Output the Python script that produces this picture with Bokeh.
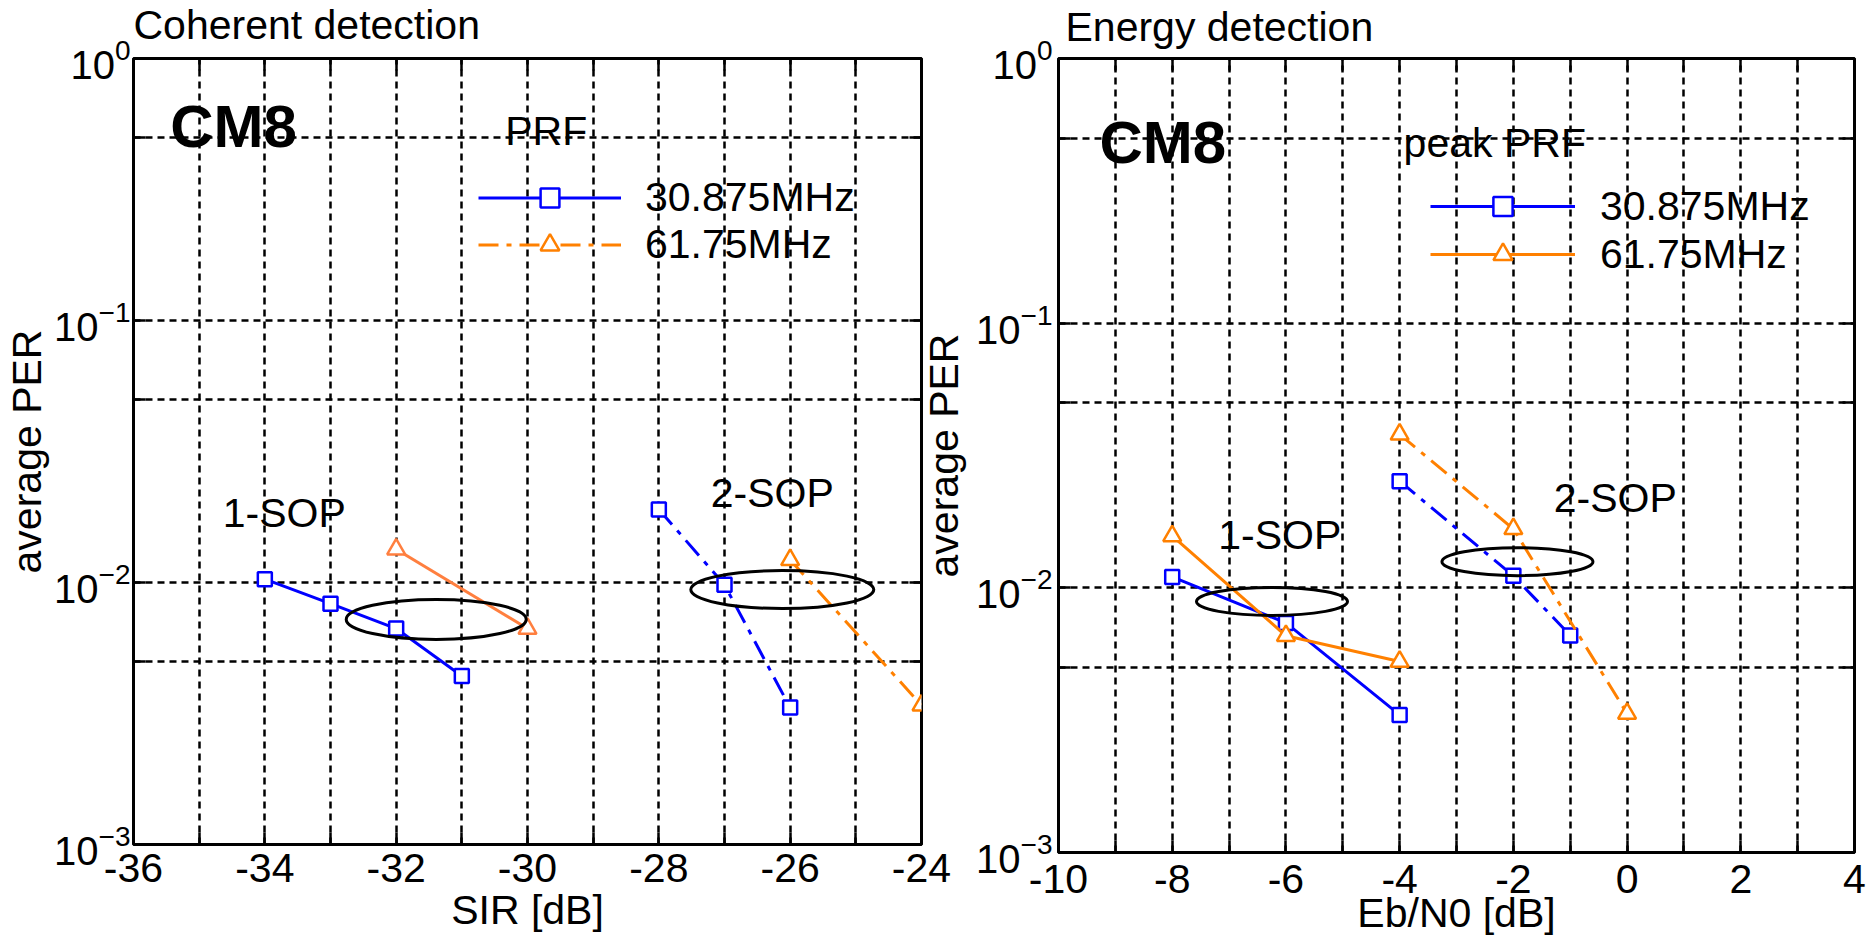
from bokeh.plotting import figure
from bokeh.models import FixedTicker, LinearAxis, LogAxis, Label, Legend, LegendItem
from bokeh.layouts import row
from bokeh.embed import file_html
from bokeh.resources import INLINE

FONT = "Liberation Sans"
BLUE = "#0000FF"
ORANGE = "#FF8000"
ORANGE_L = "#FF7F3F"

# ---------------- data: coherent detection (x = SIR [dB]) ----------------
coh_1sop_x_30 = [-34, -33, -32, -31]
coh_1sop_y_30 = [0.0103, 0.0083, 0.00667, 0.0044]
coh_1sop_x_61 = [-32, -30]
coh_1sop_y_61 = [0.0134, 0.00667]
coh_2sop_x_30 = [-28, -27, -26]
coh_2sop_y_30 = [0.0190, 0.0098, 0.00333]
coh_2sop_x_61 = [-26, -24]
coh_2sop_y_61 = [0.0122, 0.0034]

# ---------------- data: energy detection (x = Eb/N0 [dB]) ----------------
en_1sop_x = [-8, -6, -4]
en_1sop_y_30 = [0.0110, 0.00737, 0.00331]
en_1sop_y_61 = [0.0157, 0.00659, 0.00527]
en_2sop_x_30 = [-4, -2, -1]
en_2sop_y_30 = [0.0253, 0.0111, 0.00661]
en_2sop_x_61 = [-4, -2, 0]
en_2sop_y_61 = [0.0380, 0.0167, 0.00335]

# ---------------- ticks / labels ----------------
coh_x_major = [-36, -34, -32, -30, -28, -26, -24]
coh_x_minor = [-35, -33, -31, -29, -27, -25]
en_x_major = [-10, -8, -6, -4, -2, 0, 2, 4]
en_x_minor = [-9, -7, -5, -3, -1, 1, 3]
per_major = [0.001, 0.01, 0.1, 1]
per_minor = [0.005, 0.05, 0.5]
legend_labels = ["30.875MHz", "61.75MHz"]

# grouping ellipses (centre in data coords)
coh_ell_x = [-31.39, -26.12]
coh_ell_y = [0.00723, 0.0094]
en_ell_x = [-6.245, -1.928]
en_ell_y = [0.00888, 0.01256]

GRID_DASH = "7 5"
DASHDOT = "20 8 5 8"


def style_axis(ax, font_size="41px"):
    ax.axis_line_color = None
    ax.major_tick_in = 12
    ax.major_tick_out = 0
    ax.minor_tick_in = 12
    ax.minor_tick_out = 0
    ax.major_tick_line_color = "black"
    ax.minor_tick_line_color = "black"
    ax.major_tick_line_width = 2.5
    ax.minor_tick_line_width = 2.5
    ax.major_label_text_font = FONT
    ax.major_label_text_font_size = font_size
    ax.major_label_text_color = "black"
    ax.axis_label_text_font = FONT
    ax.axis_label_text_font_size = "41px"
    ax.axis_label_text_font_style = "normal"
    ax.axis_label_text_color = "black"


def base_fig(xr, xmaj, xmin, fw, fh, bl, br, bt, bb, **kw):
    p = figure(x_range=xr, y_range=(1e-3, 1), y_axis_type="log",
               frame_width=fw, frame_height=fh,
               min_border_left=bl, min_border_right=br,
               min_border_top=bt, min_border_bottom=bb,
               output_backend="svg", toolbar_location=None, **kw)
    xt = FixedTicker(ticks=xmaj, minor_ticks=xmin)
    yt = FixedTicker(ticks=per_major, minor_ticks=per_minor)
    xax = p.below[0]
    yax = p.left[0]
    xax.ticker = xt
    yax.ticker = yt
    xax.major_label_overrides = {v: str(v) for v in xmaj}
    p.xgrid.ticker = xt
    p.ygrid.ticker = yt
    for g in (p.xgrid, p.ygrid):
        g.grid_line_color = "black"
        g.grid_line_dash = GRID_DASH
        g.grid_line_width = 2.5
        g.minor_grid_line_color = "black"
        g.minor_grid_line_dash = GRID_DASH
        g.minor_grid_line_width = 2.5
    style_axis(xax)
    style_axis(yax, "40px")
    top = LinearAxis(ticker=xt)
    style_axis(top, "1px")
    top.major_label_text_alpha = 0
    top.major_label_standoff = 0
    p.add_layout(top, "above")
    rgt = LogAxis(ticker=yt)
    style_axis(rgt, "1px")
    rgt.major_label_text_alpha = 0
    rgt.major_label_standoff = 0
    p.add_layout(rgt, "right")
    p.outline_line_color = "black"
    p.outline_line_width = 3
    p.outline_line_alpha = 1
    return p, xax, yax


def series(p, x, y, color, dash, marker, size):
    l = p.line(x, y, line_color=color, line_width=3, line_dash=dash)
    s = p.scatter(x, y, marker=marker, size=size, line_color=color,
                  fill_color="white", line_width=2.5)
    return l, s


def text(p, x, y, t, size="41px", bold=False, place=None, **kw):
    lab = Label(x=x, y=y, text=t, text_font=FONT, text_font_size=size,
                text_font_style="bold" if bold else "normal",
                text_color="black", text_align="left",
                text_baseline="middle", **kw)
    if place is None:
        p.add_layout(lab)
    else:
        p.add_layout(lab, place)


# ======================= left: coherent detection =======================
p1, x1, y1 = base_fig((-36, -24), coh_x_major, coh_x_minor,
                      788, 786, 133, 36, 56, 103)
x1.axis_label = "SIR [dB]"
x1.axis_label_standoff = 2
x1.major_label_standoff = 9
y1.axis_label = "average PER"
y1.axis_label_standoff = 1
y1.major_label_standoff = 3

a1 = series(p1, coh_1sop_x_30, coh_1sop_y_30, BLUE, "solid", "square", 14)
b1 = series(p1, coh_1sop_x_61, coh_1sop_y_61, ORANGE_L, "solid", "triangle", 18)
a2 = series(p1, coh_2sop_x_30, coh_2sop_y_30, BLUE, DASHDOT, "square", 14)
b2 = series(p1, coh_2sop_x_61, coh_2sop_y_61, ORANGE, DASHDOT, "triangle", 18)
p1.ellipse(x=coh_ell_x, y=coh_ell_y, width=[180, 183], height=[40, 38],
           width_units="screen", height_units="screen",
           fill_color=None, line_color="black", line_width=3)

# panel title (in the panel above the frame)
text(p1, 0, 34, "Coherent detection", place="above", x_units="screen", y_units="screen")
text(p1, -35.44, 0.55, "CM8", size="60px", bold=True)
text(p1, -30.34, 0.53, "PRF")
text(p1, -34.64, 0.0184, "1-SOP")
text(p1, -27.21, 0.0220, "2-SOP")

leg1 = Legend(items=[LegendItem(label=legend_labels[0], renderers=list(a1)),
                     LegendItem(label=legend_labels[1], renderers=list(b2))],
              location=(345, 576), orientation="vertical", padding=0, margin=0,
              spacing=0, glyph_width=143, glyph_height=47, label_height=47,
              label_standoff=24, label_text_font=FONT, label_text_font_size="41px",
              label_text_color="black", border_line_color=None,
              background_fill_alpha=0)
p1.add_layout(leg1)

# ======================= right: energy detection =======================
p2, x2, y2 = base_fig((-10, 4), en_x_major, en_x_minor,
                      796, 794, 136, 16, 58, 94,
                      margin=(0, 0, 0, -39), border_fill_color=None)
x2.axis_label = "Eb/N0 [dB]"
x2.major_label_standoff = 12
x2.axis_label_standoff = -6
y2.axis_label = "average PER"
y2.axis_label_standoff = 6
y2.major_label_standoff = 6

c1 = series(p2, en_1sop_x, en_1sop_y_30, BLUE, "solid", "square", 14)
d1 = series(p2, en_1sop_x, en_1sop_y_61, ORANGE, "solid", "triangle", 18)
c2 = series(p2, en_2sop_x_30, en_2sop_y_30, BLUE, DASHDOT, "square", 14)
d2 = series(p2, en_2sop_x_61, en_2sop_y_61, ORANGE, DASHDOT, "triangle", 18)
p2.ellipse(x=en_ell_x, y=en_ell_y, width=151, height=28,
           width_units="screen", height_units="screen",
           fill_color=None, line_color="black", line_width=3)

text(p2, 7, 32, "Energy detection", place="above", x_units="screen", y_units="screen")
text(p2, -9.28, 0.48, "CM8", size="60px", bold=True)
text(p2, -3.93, 0.4808, "peak PRF")
text(p2, -7.19, 0.0159, "1-SOP")
text(p2, -1.29, 0.0219, "2-SOP")

leg2 = Legend(items=[LegendItem(label=legend_labels[0], renderers=list(c1)),
                     LegendItem(label=legend_labels[1], renderers=list(d1))],
              location=(372, 574), orientation="vertical", padding=0, margin=0,
              spacing=0, glyph_width=145, glyph_height=48, label_height=48,
              label_standoff=25, label_text_font=FONT, label_text_font_size="41px",
              label_text_color="black", border_line_color=None,
              background_fill_alpha=0)
p2.add_layout(leg2)

layout = row(p1, p2)
open("out.html", "w").write(file_html(layout, INLINE))
